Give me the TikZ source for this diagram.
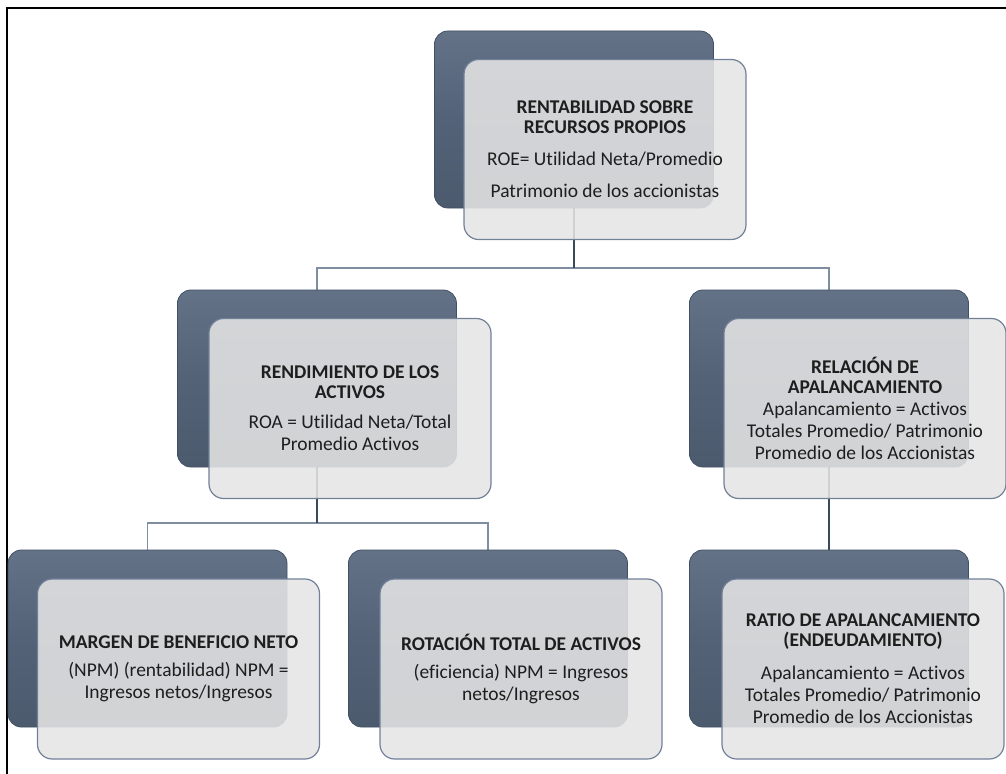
\documentclass[tikz,border=0pt]{standalone}
\usepackage{fontspec}
\setmainfont[Ligatures=NoCommon]{Carlito}
\usetikzlibrary{backgrounds}
\definecolor{slatetop}{RGB}{100,114,135}
\definecolor{slatemid}{RGB}{84,98,119}
\definecolor{slatebot}{RGB}{76,90,110}
\definecolor{slateedge}{RGB}{66,80,100}
\definecolor{frontfill}{RGB}{229,229,229}
\definecolor{frontedge}{RGB}{112,128,152}
\definecolor{connlight}{RGB}{128,142,162}
\definecolor{conndark}{RGB}{58,72,92}
\definecolor{textcol}{RGB}{30,30,30}
\begin{document}
\begin{tikzpicture}[x=0.75pt,y=-0.75pt,
  backbox/.style={rectangle, rounded corners=10pt, minimum width=209.25pt,
    minimum height=132.75pt, inner sep=0pt, top color=slatetop,
    bottom color=slatebot, middle color=slatemid, draw=slateedge, line width=0.6pt},
  frontbox/.style={rectangle, rounded corners=11pt, minimum width=211.5pt,
    minimum height=135pt, inner sep=0pt, fill=frontfill, fill opacity=0.87,
    text opacity=1, draw=frontedge, line width=0.9pt, align=center,
    font=\fontsize{14.6}{15}\selectfont, text=textcol},
  conn/.style={draw=connlight, line width=1.1pt},
  connd/.style={draw=conndark, line width=1.6pt}]
\useasboundingbox (0,0) rectangle (1006,774);
\draw[line width=1.2pt] (7,774) -- (7,8) -- (1006,8);

% top
\node[backbox] (roeB) at (574,119.5) {};
\node[frontbox] (roeF) at (605,149.5)
  {\textbf{RENTABILIDAD SOBRE}\\\textbf{RECURSOS PROPIOS}\\[9pt]
   ROE= Utilidad Neta/Promedio\\[9pt]Patrimonio de los accionistas};

% middle left
\node[backbox] (roaB) at (317,378.5) {};
\node[frontbox] (roaF) at (350,408.5)
  {\textbf{RENDIMIENTO DE LOS}\\\textbf{ACTIVOS}\\[7.5pt]
   ROA = Utilidad Neta/Total\\[1.5pt]Promedio Activos};

% middle right
\node[backbox] (apaB) at (829,378.5) {};
\node[frontbox] (apaF) at (865,408.5)
  {\textbf{RELACIÓN DE}\\\textbf{APALANCAMIENTO}\\[1.5pt]
   Apalancamiento = Activos\\[1.5pt]Totales Promedio/ Patrimonio\\[1.5pt]
   Promedio de los Accionistas};

% bottom left
\node[backbox] (npmB) at (147.5,638.5) {};
\node[frontbox] (npmF) at (178.5,669)
  {\textbf{MARGEN DE BENEFICIO NETO}\\[6pt]
   (NPM) (rentabilidad) NPM =\\[1.5pt]Ingresos netos/Ingresos};

% bottom middle
\node[backbox] (rotB) at (488,638.5) {};
\node[frontbox] (rotF) at (521,669)
  {\textbf{ROTACIÓN TOTAL DE ACTIVOS}\\[6pt]
   (eficiencia) NPM = Ingresos\\[1.5pt]netos/Ingresos};

% bottom right
\node[backbox] (ratB) at (829,638.5) {};
\node[frontbox] (ratF) at (863,669)
  {\textbf{RATIO DE APALANCAMIENTO}\\\textbf{(ENDEUDAMIENTO)}\\[9.75pt]
   Apalancamiento = Activos\\[1.5pt]Totales Promedio/ Patrimonio\\[1.5pt]
   Promedio de los Accionistas};

\coordinate (j1) at (574,268);
\coordinate (j2) at (317,523);
\begin{scope}[on background layer]
  \draw[conn] (roaB.north) |- (j1) -| (apaB.north);
  \draw[connd] (roeB.south) -- (j1);
  \draw[conn] (npmB.north) |- (j2) -| (rotB.north);
  \draw[connd] (roaB.south) -- (j2);
  \draw[connd] (apaB.south) -- (ratB.north);
\end{scope}
\end{tikzpicture}
\end{document}
